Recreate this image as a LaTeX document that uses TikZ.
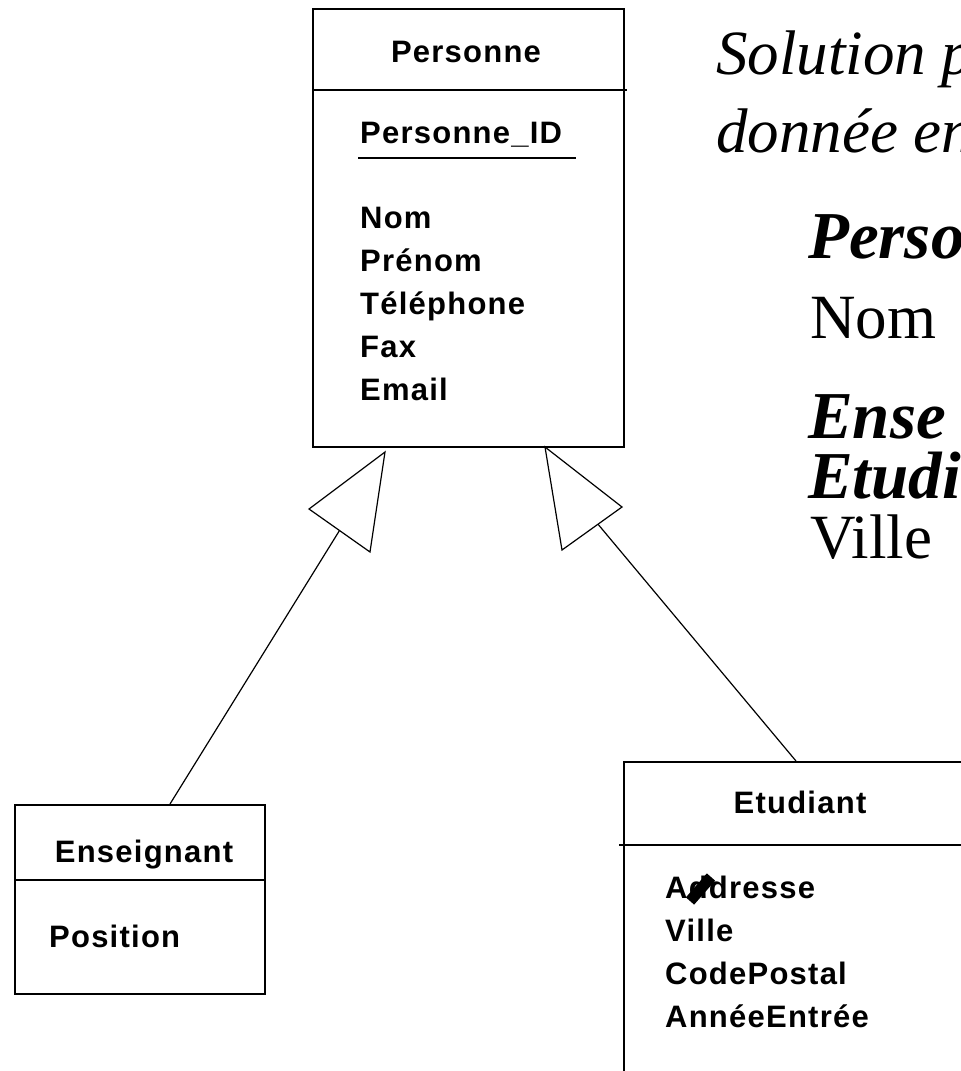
\documentclass[tikz,border=0pt]{standalone}
\usepackage{fontspec}
\setmainfont{Liberation Serif}
\newfontfamily\boxfont[LetterSpace=4]{Liberation Sans}
\usetikzlibrary{calc}
\begin{document}
\begin{tikzpicture}[x=1pt,y=-1pt,
  boxline/.style={draw=black,line width=1.6pt},
  sepline/.style={draw=black,line width=1.6pt},
  link/.style={draw=black,line width=1.2pt},
  head/.style={draw=black,line width=1.2pt,fill=white,line join=miter},
  attr/.style={anchor=base west,inner sep=0pt,font=\boxfont\bfseries\fontsize{31}{36}\selectfont},
  ttl/.style={anchor=base,inner sep=0pt,font=\boxfont\bfseries\fontsize{31}{36}\selectfont},
  slideit/.style={anchor=base west,inner sep=0pt,font=\itshape\fontsize{63}{70}\selectfont},
  slidebi/.style={anchor=base west,inner sep=0pt,font=\bfseries\itshape\fontsize{67}{60}\selectfont},
  sliderm/.style={anchor=base west,inner sep=0pt,font=\fontsize{63}{60}\selectfont}
]
\useasboundingbox (0,0) rectangle (961,1071);
\fill[white] (0,0) rectangle (961,1071);
\begin{scope}
\clip (0,0) rectangle (961,1071);

% ---- Personne class
\node[boxline,anchor=north west,minimum width=311pt,minimum height=438pt,inner sep=0pt] (pers) at (312,8) {};
\draw[sepline] (312,90) -- (627,90);
\node[ttl] (persT) at (466,62) {Personne};
\node[attr] (pid) at (360,143) {Personne\_ID};
\draw[line width=1.4pt] (358,158) -- (576,158);
\node[attr] (p1) at (360,228) {Nom};
\node[attr] (p2) at (360,271) {Prénom};
\node[attr] (p3) at (360,314) {Téléphone};
\node[attr] (p4) at (360,357) {Fax};
\node[attr] (p5) at (360,400) {Email};

% ---- Enseignant class
\node[boxline,anchor=north west,minimum width=250pt,minimum height=189pt,inner sep=0pt] (ens) at (14,804) {};
\draw[sepline] (14,880) -- (264,880);
\node[ttl] (ensT) at (144,862) {Enseignant};
\node[attr] (e1) at (49,947) {Position};

% ---- Etudiant class
\node[boxline,anchor=north west,minimum width=420pt,minimum height=420pt,inner sep=0pt] (etu) at (623,761) {};
\draw[sepline] (619,845) -- (990,845);
\node[ttl] (etuT) at (800,813) {Etudiant};
\node[attr] (s1) at (665,898) {Addresse};
\node[attr] (s2) at (665,941) {Ville};
\node[attr] (s3) at (665,984) {CodePostal};
\node[attr] (s4) at (665,1027) {AnnéeEntrée};
\draw[line width=11pt] (690,901) -- (711,877);

% ---- generalisation arrows
\coordinate (t1a) at (385,452);
\coordinate (t1b) at (309,509);
\coordinate (t1c) at (370,552);
\coordinate (ensTop) at (170,804);
\draw[link] (ensTop) -- ($(t1b)!0.5!(t1c)$);
\draw[head] (t1a) -- (t1b) -- (t1c) -- cycle;

\coordinate (t2a) at (545,447);
\coordinate (t2b) at (622,507);
\coordinate (t2c) at (562,550);
\coordinate (etuTop) at (796,761);
\draw[link] (etuTop) -- ($(t2b)!0.4!(t2c)$);
\draw[head] (t2a) -- (t2b) -- (t2c) -- cycle;

% ---- slide text (cut at the right edge)
\node[slideit] (r1) at (716,74) {Solution p};
\node[slideit] (r2) at (716,152) {donnée en};
\node[slidebi] (r3) at (808,258) {Perso};
\node[sliderm] (r4) at (810,338) {Nom};
\node[slidebi] (r5) at (808,438) {Ense};
\node[slidebi] (r6) at (808,498) {Etudi};
\node[sliderm] (r7) at (810,558) {Ville};
\end{scope}
\end{tikzpicture}
\end{document}
